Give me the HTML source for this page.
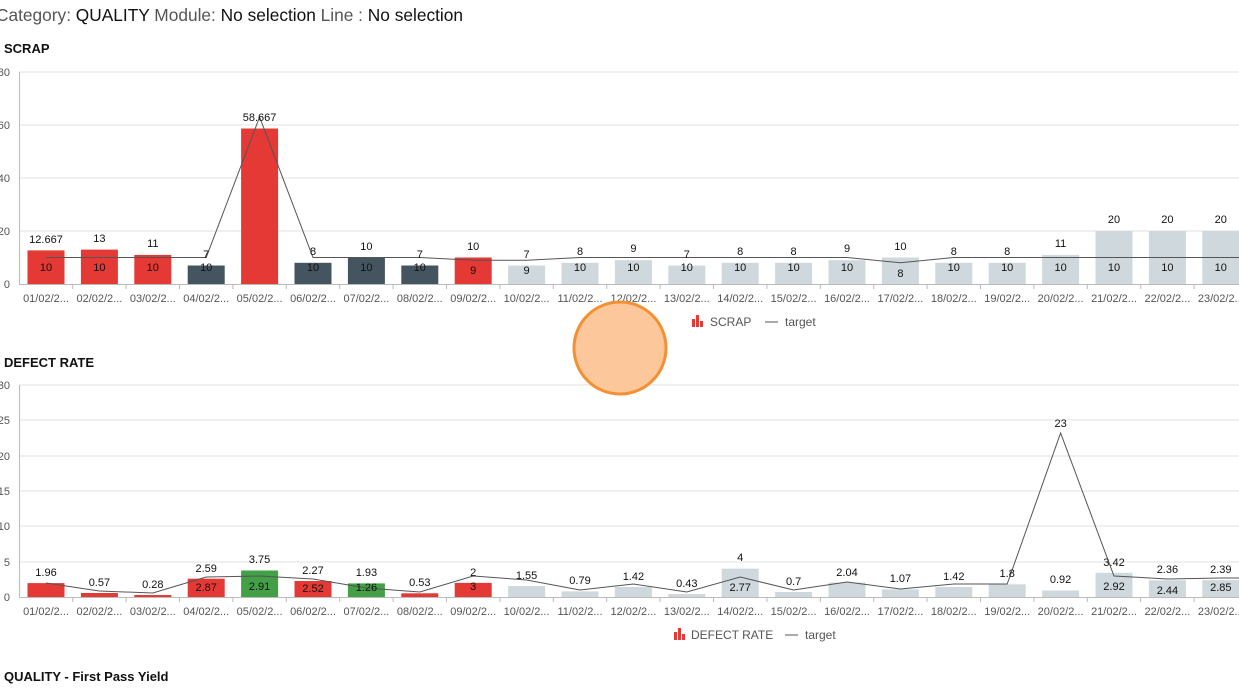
<!DOCTYPE html>
<html><head><meta charset="utf-8"><style>
body{margin:0;width:1239px;height:693px;overflow:hidden;background:#fff;font-family:"Liberation Sans",sans-serif}
svg{position:absolute;left:0;top:0}
</style></head><body>
<svg width="1239" height="693" viewBox="0 0 1239 693" font-family="Liberation Sans, sans-serif">
<text x="-4" y="21" font-size="17.3" fill="#111" textLength="467" lengthAdjust="spacingAndGlyphs"><tspan fill="#555">Category:</tspan> QUALITY <tspan fill="#555">Module:</tspan> No selection <tspan fill="#555">Line :</tspan> No selection</text>
<text x="4" y="53" font-size="13" font-weight="bold" fill="#111">SCRAP</text>
<text x="4" y="367" font-size="13" font-weight="bold" fill="#111">DEFECT RATE</text>
<text x="4" y="681" font-size="13" font-weight="bold" fill="#111">QUALITY - First Pass Yield</text>

<g stroke="#e2e2e2" stroke-width="1">
<line x1="19" y1="72" x2="1239" y2="72"/><line x1="19" y1="125" x2="1239" y2="125"/><line x1="19" y1="178" x2="1239" y2="178"/><line x1="19" y1="231" x2="1239" y2="231"/>
<line x1="19" y1="385" x2="1239" y2="385"/><line x1="19" y1="420" x2="1239" y2="420"/><line x1="19" y1="456" x2="1239" y2="456"/><line x1="19" y1="491" x2="1239" y2="491"/><line x1="19" y1="526" x2="1239" y2="526"/><line x1="19" y1="562" x2="1239" y2="562"/>
</g>
<g stroke="#bbb"><line x1="19.5" y1="72" x2="19.5" y2="284"/><line x1="19" y1="284.5" x2="1239" y2="284.5"/><line x1="19.5" y1="385" x2="19.5" y2="597"/><line x1="19" y1="597.5" x2="1239" y2="597.5"/></g>
<g font-size="11" fill="#555" text-anchor="end">
<text x="10" y="76">80</text><text x="10" y="129">60</text><text x="10" y="182">40</text><text x="10" y="235">20</text><text x="10" y="288">0</text>
<text x="10" y="389">30</text><text x="10" y="424">25</text><text x="10" y="460">20</text><text x="10" y="495">15</text><text x="10" y="530">10</text><text x="10" y="566">5</text><text x="10" y="601">0</text>
</g>

<g>
<rect x="27.5" y="250.4" width="37" height="33.6" fill="#e53935"/>
<rect x="80.9" y="249.6" width="37" height="34.4" fill="#e53935"/>
<rect x="134.3" y="254.9" width="37" height="29.1" fill="#e53935"/>
<rect x="187.7" y="265.5" width="37" height="18.5" fill="#455560"/>
<rect x="241.1" y="128.5" width="37" height="155.5" fill="#e53935"/>
<rect x="294.5" y="262.8" width="37" height="21.2" fill="#455560"/>
<rect x="347.9" y="257.5" width="37" height="26.5" fill="#455560"/>
<rect x="401.3" y="265.5" width="37" height="18.5" fill="#455560"/>
<rect x="454.7" y="257.5" width="37" height="26.5" fill="#e53935"/>
<g fill="#cfd8dc">
<rect x="508.1" y="265.5" width="37" height="18.5"/>
<rect x="561.5" y="262.8" width="37" height="21.2"/>
<rect x="614.9" y="260.2" width="37" height="23.8"/>
<rect x="668.3" y="265.5" width="37" height="18.5"/>
<rect x="721.7" y="262.8" width="37" height="21.2"/>
<rect x="775.1" y="262.8" width="37" height="21.2"/>
<rect x="828.5" y="260.2" width="37" height="23.8"/>
<rect x="881.9" y="257.5" width="37" height="26.5"/>
<rect x="935.3" y="262.8" width="37" height="21.2"/>
<rect x="988.7" y="262.8" width="37" height="21.2"/>
<rect x="1042.1" y="254.9" width="37" height="29.1"/>
<rect x="1095.5" y="231" width="37" height="53"/>
<rect x="1148.9" y="231" width="37" height="53"/>
<rect x="1202.3" y="231" width="37" height="53"/>
</g></g>
<polyline fill="none" stroke="#555" stroke-width="1" points="46,257.5 99.4,257.5 152.8,257.5 206.2,257.5 259.6,117 313,257.5 366.4,257.5 419.8,257.5 473.2,260.2 526.6,260.2 580,257.5 633.4,257.5 686.8,257.5 740.2,257.5 793.6,257.5 847,257.5 900.4,262.8 953.8,257.5 1007.2,257.5 1060.6,257.5 1114,257.5 1167.4,257.5 1220.8,257.5 1239,257.5"/>
<g font-size="11" fill="#111" text-anchor="middle">
<text x="46" y="243">12.667</text><text x="99.4" y="242">13</text><text x="152.8" y="247">11</text><text x="206.2" y="258">7</text><text x="259.6" y="121">58.667</text><text x="313" y="255">8</text><text x="366.4" y="250">10</text><text x="419.8" y="258">7</text><text x="473.2" y="250">10</text><text x="526.6" y="258">7</text><text x="580" y="255">8</text><text x="633.4" y="252">9</text><text x="686.8" y="258">7</text><text x="740.2" y="255">8</text><text x="793.6" y="255">8</text><text x="847" y="252">9</text><text x="900.4" y="250">10</text><text x="953.8" y="255">8</text><text x="1007.2" y="255">8</text><text x="1060.6" y="247">11</text><text x="1114" y="223">20</text><text x="1167.4" y="223">20</text><text x="1220.8" y="223">20</text>
<text x="46" y="271">10</text><text x="99.4" y="271">10</text><text x="152.8" y="271">10</text><text x="206.2" y="271">10</text><text x="313" y="271">10</text><text x="366.4" y="271">10</text><text x="419.8" y="271">10</text><text x="473.2" y="274">9</text><text x="526.6" y="274">9</text><text x="580" y="271">10</text><text x="633.4" y="271">10</text><text x="686.8" y="271">10</text><text x="740.2" y="271">10</text><text x="793.6" y="271">10</text><text x="847" y="271">10</text><text x="900.4" y="277">8</text><text x="953.8" y="271">10</text><text x="1007.2" y="271">10</text><text x="1060.6" y="271">10</text><text x="1114" y="271">10</text><text x="1167.4" y="271">10</text><text x="1220.8" y="271">10</text>
</g>
<g font-size="11" fill="#555" text-anchor="middle">
<text x="46" y="302">01/02/2...</text><text x="99.4" y="302">02/02/2...</text><text x="152.8" y="302">03/02/2...</text><text x="206.2" y="302">04/02/2...</text><text x="259.6" y="302">05/02/2...</text><text x="313" y="302">06/02/2...</text><text x="366.4" y="302">07/02/2...</text><text x="419.8" y="302">08/02/2...</text><text x="473.2" y="302">09/02/2...</text><text x="526.6" y="302">10/02/2...</text><text x="580" y="302">11/02/2...</text><text x="633.4" y="302">12/02/2...</text><text x="686.8" y="302">13/02/2...</text><text x="740.2" y="302">14/02/2...</text><text x="793.6" y="302">15/02/2...</text><text x="847" y="302">16/02/2...</text><text x="900.4" y="302">17/02/2...</text><text x="953.8" y="302">18/02/2...</text><text x="1007.2" y="302">19/02/2...</text><text x="1060.6" y="302">20/02/2...</text><text x="1114" y="302">21/02/2...</text><text x="1167.4" y="302">22/02/2...</text><text x="1220.8" y="302">23/02/2...</text>
</g>
<g font-size="11" fill="#555" text-anchor="middle">
<text x="46" y="615">01/02/2...</text><text x="99.4" y="615">02/02/2...</text><text x="152.8" y="615">03/02/2...</text><text x="206.2" y="615">04/02/2...</text><text x="259.6" y="615">05/02/2...</text><text x="313" y="615">06/02/2...</text><text x="366.4" y="615">07/02/2...</text><text x="419.8" y="615">08/02/2...</text><text x="473.2" y="615">09/02/2...</text><text x="526.6" y="615">10/02/2...</text><text x="580" y="615">11/02/2...</text><text x="633.4" y="615">12/02/2...</text><text x="686.8" y="615">13/02/2...</text><text x="740.2" y="615">14/02/2...</text><text x="793.6" y="615">15/02/2...</text><text x="847" y="615">16/02/2...</text><text x="900.4" y="615">17/02/2...</text><text x="953.8" y="615">18/02/2...</text><text x="1007.2" y="615">19/02/2...</text><text x="1060.6" y="615">20/02/2...</text><text x="1114" y="615">21/02/2...</text><text x="1167.4" y="615">22/02/2...</text><text x="1220.8" y="615">23/02/2...</text>
</g>
<g stroke="#bbb">
<path d="M72.7 284v5M126.1 284v5M179.5 284v5M232.9 284v5M286.3 284v5M339.7 284v5M393.1 284v5M446.5 284v5M499.9 284v5M553.3 284v5M606.7 284v5M660.1 284v5M713.5 284v5M766.9 284v5M820.3 284v5M873.7 284v5M927.1 284v5M980.5 284v5M1033.9 284v5M1087.3 284v5M1140.7 284v5M1194.1 284v5"/>
<path d="M72.7 597v5M126.1 597v5M179.5 597v5M232.9 597v5M286.3 597v5M339.7 597v5M393.1 597v5M446.5 597v5M499.9 597v5M553.3 597v5M606.7 597v5M660.1 597v5M713.5 597v5M766.9 597v5M820.3 597v5M873.7 597v5M927.1 597v5M980.5 597v5M1033.9 597v5M1087.3 597v5M1140.7 597v5M1194.1 597v5"/>
</g>

<g fill="#e53935"><rect x="692" y="319" width="3" height="8"/><rect x="696" y="315" width="3" height="12"/><rect x="700" y="321" width="3" height="6"/></g>
<text x="710" y="326" font-size="12" fill="#555">SCRAP</text>
<line x1="765" y1="322" x2="778" y2="322" stroke="#555"/>
<text x="785" y="326" font-size="12" fill="#555">target</text>
<g fill="#e53935"><rect x="674" y="632" width="3" height="8"/><rect x="678" y="628" width="3" height="12"/><rect x="682" y="634" width="3" height="6"/></g>
<text x="691" y="639" font-size="12" fill="#555">DEFECT RATE</text>
<line x1="785" y1="635" x2="798" y2="635" stroke="#555"/>
<text x="805" y="639" font-size="12" fill="#555">target</text>

<g>
<rect x="27.5" y="583.1" width="37" height="13.9" fill="#e53935"/>
<rect x="80.9" y="593" width="37" height="4" fill="#e53935"/>
<rect x="134.3" y="595" width="37" height="2" fill="#e53935"/>
<rect x="187.7" y="578.7" width="37" height="18.3" fill="#e53935"/>
<rect x="241.1" y="570.5" width="37" height="26.5" fill="#43a047"/>
<rect x="294.5" y="581" width="37" height="16" fill="#e53935"/>
<rect x="347.9" y="583.4" width="37" height="13.6" fill="#43a047"/>
<rect x="401.3" y="593.3" width="37" height="3.7" fill="#e53935"/>
<rect x="454.7" y="582.9" width="37" height="14.1" fill="#e53935"/>
<g fill="#cfd8dc">
<rect x="508.1" y="586" width="37" height="11"/>
<rect x="561.5" y="591.4" width="37" height="5.6"/>
<rect x="614.9" y="587" width="37" height="10"/>
<rect x="668.3" y="594" width="37" height="3"/>
<rect x="721.7" y="568.7" width="37" height="28.3"/>
<rect x="775.1" y="592" width="37" height="5"/>
<rect x="828.5" y="582.6" width="37" height="14.4"/>
<rect x="881.9" y="589.4" width="37" height="7.6"/>
<rect x="935.3" y="587" width="37" height="10"/>
<rect x="988.7" y="584.3" width="37" height="12.7"/>
<rect x="1042.1" y="590.5" width="37" height="6.5"/>
<rect x="1095.5" y="572.8" width="37" height="24.2"/>
<rect x="1148.9" y="580.3" width="37" height="16.7"/>
<rect x="1202.3" y="580.1" width="37" height="16.9"/>
</g></g>
<polyline fill="none" stroke="#555" stroke-width="1" points="46,583 99.4,591 152.8,593 206.2,577 259.6,576 313,579 366.4,588 419.8,592 473.2,576 526.6,580 580,590 633.4,584 686.8,592 740.2,577 793.6,590 847,582 900.4,589 953.8,584 1007.2,584 1060.6,433 1114,576 1167.4,579 1220.8,578 1239,578"/>
<g font-size="11" fill="#111" text-anchor="middle">
<text x="46" y="576">1.96</text><text x="99.4" y="586">0.57</text><text x="152.8" y="588">0.28</text><text x="206.2" y="572">2.59</text><text x="259.6" y="563">3.75</text><text x="313" y="574">2.27</text><text x="366.4" y="576">1.93</text><text x="419.8" y="586">0.53</text><text x="473.2" y="576">2</text><text x="526.6" y="579">1.55</text><text x="580" y="584">0.79</text><text x="633.4" y="580">1.42</text><text x="686.8" y="587">0.43</text><text x="740.2" y="561">4</text><text x="793.6" y="585">0.7</text><text x="847" y="576">2.04</text><text x="900.4" y="582">1.07</text><text x="953.8" y="580">1.42</text><text x="1007.2" y="577">1.8</text><text x="1060.6" y="583">0.92</text><text x="1060.6" y="427">23</text><text x="1114" y="566">3.42</text><text x="1167.4" y="573">2.36</text><text x="1220.8" y="573">2.39</text>
<text x="206.2" y="591">2.87</text><text x="259.6" y="590">2.91</text><text x="313" y="592">2.52</text><text x="366.4" y="591">1.26</text><text x="473.2" y="590">3</text><text x="740.2" y="591">2.77</text><text x="1114" y="590">2.92</text><text x="1167.4" y="594">2.44</text><text x="1220.8" y="591">2.85</text>
</g>

<circle cx="620" cy="348" r="46" fill="#fcc89b" stroke="#f39033" stroke-width="3"/>
</svg>
</body></html>
